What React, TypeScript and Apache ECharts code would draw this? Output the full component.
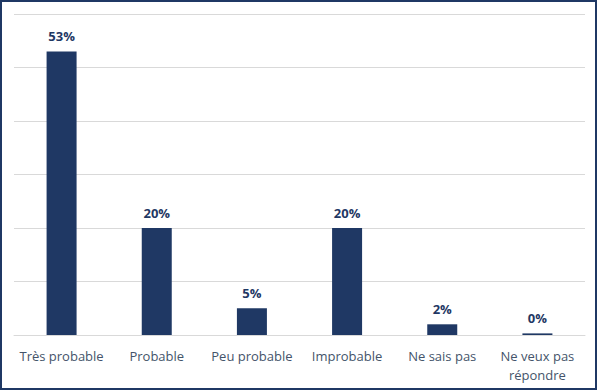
import React, { useEffect, useRef } from "react";
import * as echarts from "echarts";

const categories = ["Très probable", "Probable", "Peu probable", "Improbable", "Ne sais pas", "Ne veux pas\nrépondre"];
const values = [53, 20, 5, 20, 2, 0.3];
const labels = ["53%", "20%", "5%", "20%", "2%", "0%"];

export default function App() {
  const ref = useRef<HTMLDivElement>(null);
  useEffect(() => {
    const chart = echarts.init(ref.current!, null, { renderer: "svg" });
    chart.setOption({
      animation: false,
      grid: { left: 14, right: 15, top: 14, bottom: 56 },
      xAxis: {
        type: "category",
        data: categories,
        axisLine: { show: true, lineStyle: { color: "#D9D9D9", width: 1 } },
        axisTick: { show: false },
        axisLabel: {
          interval: 0,
          color: "#44546A",
          fontFamily: "Open Sans",
          fontSize: 13,
          margin: 11,
          lineHeight: 19,
        },
      },
      yAxis: {
        type: "value",
        min: 0,
        max: 60,
        interval: 10,
        axisLabel: { show: false },
        axisLine: { show: false },
        axisTick: { show: false },
        splitLine: { lineStyle: { color: "#D9D9D9", width: 1 } },
      },
      series: [
        {
          type: "bar",
          data: values,
          barWidth: 30,
          itemStyle: { color: "#1F3864" },
          label: {
            show: true,
            position: "top",
            distance: 9,
            formatter: (p: any) => labels[p.dataIndex],
            color: "#1F3864",
            fontFamily: "Open Sans",
            fontWeight: "bold",
            fontSize: 13,
          },
        },
      ],
    });
    return () => chart.dispose();
  }, []);
  return (
    <div style={{ position: "fixed", left: 0, top: 0, width: 600, height: 391, background: "#fff" }}>
      <div
        style={{
          position: "absolute",
          left: 0,
          top: 0,
          width: 597,
          height: 390,
          border: "2px solid #1F3864",
          boxSizing: "border-box",
        }}
      />
      <div ref={ref} style={{ position: "absolute", left: 0, top: 0, width: 600, height: 391 }} />
    </div>
  );
}
